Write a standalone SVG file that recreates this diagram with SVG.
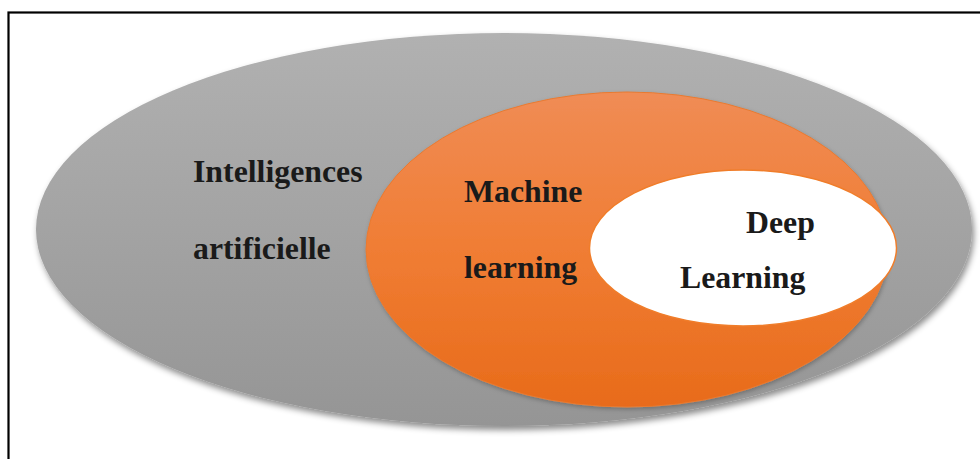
<svg xmlns="http://www.w3.org/2000/svg" width="980" height="459" viewBox="0 0 980 459">
  <defs>
    <linearGradient id="gGray" x1="0" y1="0" x2="0" y2="1">
      <stop offset="0" stop-color="#b1b1b1"/>
      <stop offset="1" stop-color="#959595"/>
    </linearGradient>
    <linearGradient id="gOrange" x1="0" y1="0" x2="0" y2="1">
      <stop offset="0" stop-color="#f08c55"/>
      <stop offset="0.5" stop-color="#f07d34"/>
      <stop offset="1" stop-color="#e86b1a"/>
    </linearGradient>
    <filter id="shadow" x="-10%" y="-10%" width="120%" height="130%">
      <feDropShadow dx="2" dy="4" stdDeviation="3" flood-color="#000" flood-opacity="0.45"/>
    </filter>
    <filter id="shadow2" x="-10%" y="-10%" width="120%" height="130%">
      <feDropShadow dx="1" dy="2" stdDeviation="2" flood-color="#000" flood-opacity="0.25"/>
    </filter>
  </defs>
  <style>
    .lbl { font-family: "Liberation Serif", "Times New Roman", serif; font-weight: bold; font-size: 31.8px; fill: #1a1a1a; }
  </style>
  <rect x="0" y="0" width="980" height="459" fill="#ffffff"/>
  <rect x="8.5" y="12.5" width="1000" height="500" fill="none" stroke="#000" stroke-width="2.2"/>
  <g id="ai">
    <ellipse cx="504" cy="229.5" rx="468" ry="196.5" fill="url(#gGray)" filter="url(#shadow)"/>
    <text class="lbl" x="193" y="182">Intelligences</text>
    <text class="lbl" x="193" y="259">artificielle</text>
  </g>
  <g id="ml">
    <ellipse cx="627" cy="249.5" rx="261" ry="157.5" fill="url(#gOrange)" stroke="#ea7a30" stroke-width="1" filter="url(#shadow2)"/>
    <text class="lbl" x="464" y="202">Machine</text>
    <text class="lbl" x="464" y="278">learning</text>
  </g>
  <g id="dl">
    <ellipse cx="743" cy="248" rx="153.5" ry="78" fill="#ffffff" stroke="#f07d2a" stroke-width="1.5"/>
    <text class="lbl" x="746" y="233" fill="#000">Deep</text>
    <text class="lbl" x="680" y="288">Learning</text>
  </g>
  <g id="connectors"/>
</svg>
